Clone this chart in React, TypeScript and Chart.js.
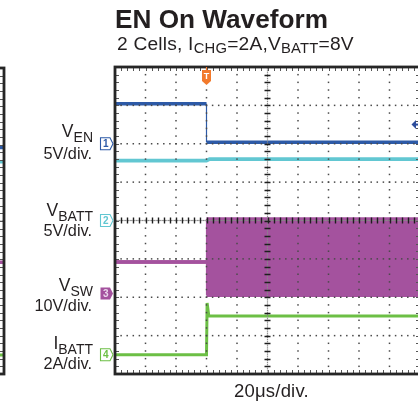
import React, { useEffect, useRef } from "react";
import { Chart, registerables } from "chart.js";

Chart.register(...registerables);

// ---- time base: 20 µs/div, 10 divisions, trigger at t = 0 ----
const timeMin = -60;
const timeMax = 140;
const timePerDiv = 20;
const verticalDivs = 8;

// ---- channels ----
const channelNames = ["EN", "BATT", "SW", "BATT"];
const channelPrefixes = ["V", "V", "V", "I"];
const channelScaleText = ["5V/div.", "5V/div.", "10V/div.", "2A/div."];
const channelPerDiv = [5, 5, 10, 2];
const channelZeroDiv = [2, 0, -1.9, -3.5];
const channelColors = ["#2d5aa7", "#62c7d2", "#a4529e", "#6cbf45"];

// ---- EN On waveform ----
const tEN = [-60, 0, 0, 140];
const vEN = [5.2, 5.2, 0.2, 0.2];
const tBATT = [-60, 0, 2, 140];
const vBATT = [7.8, 7.8, 8.0, 8.0];
const tSW = [-60, 0, 0, 140];
const vSWHigh = [8.2, 8.2, 19.4, 19.4];
const vSWLow = [8.2, 8.2, -0.5, -0.5];
const tIBATT = [-60, 0, 0.4, 1.5, 140];
const iBATT = [0, 0, 2.7, 2.02, 2.02];
const triggerLevelEN = 2.5;

// ---- previous panel (only its right edge is in view) ----
const tPrev = [110, 140];
const vENPrev = [-0.4, -0.4];
const vBATTPrev = [7.75, 7.75];
const vSWPrev = [8.2, 8.2];
const iBATTPrev = [0, 0];

const pts = (t: number[], v: number[]) => t.map((x, i) => ({ x, y: v[i] }));

const FONT = '"Liberation Sans", Arial, sans-serif';

const scopePlugin = {
  id: "scopeGrid",
  afterDatasetsDraw(chart: any, _args: any, opts: any) {
    const { ctx, chartArea: a, scales } = chart;
    const xs = scales.x;
    const ys = scales.yd;
    const nx = (timeMax - timeMin) / timePerDiv;
    const ny = verticalDivs;
    const xAt = (d: number) => xs.getPixelForValue(timeMin + d * timePerDiv);
    const yAt = (d: number) => ys.getPixelForValue(d - ny / 2);
    ctx.save();
    // dotted grid
    ctx.fillStyle = "#4a4a4a";
    for (let i = 1; i < nx; i++) {
      if (i === nx / 2) continue;
      const x = xAt(i);
      for (let j = 1; j < ny * 5; j++) {
        const y = yAt(j / 5);
        ctx.fillRect(x - 0.75, y - 0.75, 1.5, 1.5);
      }
    }
    for (let k = 1; k < ny; k++) {
      if (k === ny / 2) continue;
      const y = yAt(k);
      for (let j = 1; j < nx * 5; j++) {
        const x = xAt(j / 5);
        ctx.fillRect(x - 0.75, y - 0.75, 1.5, 1.5);
      }
    }
    // centre lines
    const xc = xAt(nx / 2);
    const yc = yAt(ny / 2);
    ctx.fillStyle = "#8a8a8a";
    for (let j = 0; j < ny * 20; j++) {
      const y = yAt(j / 20);
      ctx.fillRect(xc - 0.6, y - 0.6, 1.2, 1.2);
    }
    for (let j = 0; j < nx * 20; j++) {
      const x = xAt(j / 20);
      ctx.fillRect(x - 0.6, yc - 0.6, 1.2, 1.2);
    }
    ctx.strokeStyle = "#1e1e1e";
    ctx.lineWidth = 1.4;
    ctx.beginPath();
    for (let j = 1; j < ny * 5; j++) {
      const y = Math.round(yAt(j / 5)) + 0.5;
      ctx.moveTo(xc - 3, y);
      ctx.lineTo(xc + 3, y);
    }
    for (let j = 1; j < nx * 5; j++) {
      const x = Math.round(xAt(j / 5)) + 0.5;
      ctx.moveTo(x, yc - 3);
      ctx.lineTo(x, yc + 3);
    }
    ctx.stroke();
    // frame minor ticks
    ctx.strokeStyle = "#555";
    ctx.lineWidth = 1;
    ctx.beginPath();
    for (let j = 1; j < ny * 5; j++) {
      const y = Math.round(yAt(j / 5)) + 0.5;
      ctx.moveTo(a.left, y);
      ctx.lineTo(a.left + 4, y);
      ctx.moveTo(a.right - 4, y);
      ctx.lineTo(a.right, y);
    }
    for (let j = 1; j < nx * 5; j++) {
      const x = Math.round(xAt(j / 5)) + 0.5;
      ctx.moveTo(x, a.top);
      ctx.lineTo(x, a.top + 4);
      ctx.moveTo(x, a.bottom - 4);
      ctx.lineTo(x, a.bottom);
    }
    ctx.stroke();
    // frame
    ctx.strokeStyle = "#262626";
    ctx.lineWidth = 2.8;
    ctx.strokeRect(a.left, a.top, a.right - a.left, a.bottom - a.top);

    if (opts && opts.markers) {
      // channel ground tags
      ctx.font = `bold 10px ${FONT}`;
      ctx.textAlign = "center";
      ctx.textBaseline = "middle";
      for (let c = 0; c < 4; c++) {
        const y = scales["y" + (c + 1)].getPixelForValue(0);
        const x0 = a.left - 14.5;
        ctx.beginPath();
        ctx.moveTo(x0, y - 6);
        ctx.lineTo(x0 + 9.5, y - 6);
        ctx.lineTo(x0 + 12.5, y);
        ctx.lineTo(x0 + 9.5, y + 6);
        ctx.lineTo(x0, y + 6);
        ctx.closePath();
        if (c === 2) {
          ctx.fillStyle = channelColors[c];
          ctx.fill();
          ctx.fillStyle = "#ead6eb";
        } else {
          ctx.fillStyle = "#ffffff";
          ctx.fill();
          ctx.strokeStyle = channelColors[c];
          ctx.lineWidth = 1.1;
          ctx.stroke();
          ctx.fillStyle = channelColors[c];
        }
        ctx.fillText(String(c + 1), x0 + 5.3, y + 0.5);
      }
      // trigger position marker
      const xt = xs.getPixelForValue(0);
      ctx.fillStyle = "#f27a2c";
      ctx.fillRect(xt - 0.6, a.top, 1.2, 4);
      ctx.beginPath();
      ctx.moveTo(xt - 4.5, a.top + 3);
      ctx.lineTo(xt + 4.5, a.top + 3);
      ctx.lineTo(xt + 4.5, a.top + 14);
      ctx.lineTo(xt, a.top + 18);
      ctx.lineTo(xt - 4.5, a.top + 14);
      ctx.closePath();
      ctx.fill();
      ctx.fillStyle = "#ffffff";
      ctx.font = `bold 9px ${FONT}`;
      ctx.fillText("T", xt, a.top + 10);
      // trigger level arrow (channel 1)
      const yl = scales.y1.getPixelForValue(triggerLevelEN);
      ctx.fillStyle = "#2d4d9c";
      ctx.beginPath();
      ctx.moveTo(a.right - 8.5, yl);
      ctx.lineTo(a.right - 4, yl - 4.5);
      ctx.lineTo(a.right - 4, yl + 4.5);
      ctx.closePath();
      ctx.fill();
      ctx.fillRect(a.right - 5, yl - 1, 6, 2);
    }
    ctx.restore();
  },
};

const edgeWidth = (w: number) => (ctx: any) =>
  ctx.p0.parsed.x === ctx.p1.parsed.x ? 1.2 : w;

function buildChart(canvas: HTMLCanvasElement, datasets: any[], padding: any, markers: boolean) {
  const yScales: any = {};
  for (let c = 0; c < 4; c++) {
    yScales["y" + (c + 1)] = {
      type: "linear",
      display: false,
      min: (-verticalDivs / 2 - channelZeroDiv[c]) * channelPerDiv[c],
      max: (verticalDivs / 2 - channelZeroDiv[c]) * channelPerDiv[c],
    };
  }
  return new Chart(canvas, {
    type: "line",
    data: { datasets },
    options: {
      responsive: false,
      maintainAspectRatio: false,
      animation: false,
      layout: { padding },
      elements: { point: { radius: 0 }, line: { tension: 0 } },
      plugins: {
        legend: { display: false },
        tooltip: { enabled: false },
        scopeGrid: { markers },
      } as any,
      scales: {
        x: { type: "linear", display: false, min: timeMin, max: timeMax },
        yd: { type: "linear", display: false, min: -verticalDivs / 2, max: verticalDivs / 2 },
        ...yScales,
      },
    },
    plugins: [scopePlugin],
  });
}

const lineDs = (data: any[], c: number, w: number, extra: any = {}) => ({
  data,
  yAxisID: "y" + (c + 1),
  borderColor: channelColors[c],
  borderWidth: w,
  pointRadius: 0,
  fill: false,
  segment: { borderWidth: edgeWidth(w) },
  ...extra,
});

function ScopeCanvas(props: { style: any; width: number; height: number; padding: any; markers: boolean; datasets: () => any[] }) {
  const ref = useRef<HTMLCanvasElement | null>(null);
  useEffect(() => {
    if (!ref.current) return;
    const chart = buildChart(ref.current, props.datasets(), props.padding, props.markers);
    return () => chart.destroy();
  }, []);
  return <canvas ref={ref} width={props.width} height={props.height} style={{ ...props.style, width: props.width, height: props.height }} />;
}

const mainDatasets = () => [
  lineDs(pts(tSW, vSWLow), 2, 3.5),
  lineDs(pts(tSW, vSWHigh), 2, 3.5, { fill: "-1", backgroundColor: channelColors[2] }),
  lineDs(pts(tBATT, vBATT), 1, 3.8),
  lineDs(pts(tEN, vEN), 0, 3.5),
  lineDs(pts(tIBATT, iBATT), 3, 3),
];

const prevDatasets = () => [
  lineDs(pts(tPrev, vSWPrev), 2, 3.5),
  lineDs(pts(tPrev, vBATTPrev), 1, 3.5),
  lineDs(pts(tPrev, vENPrev), 0, 3.5),
  lineDs(pts(tPrev, iBATTPrev), 3, 3),
];

const top = (baseline: number, size: number) => baseline - 0.8465 * size;

function SideLabel(props: { c: number; base: number; unitBase: number }) {
  const { c, base, unitBase } = props;
  const common: any = {
    position: "absolute",
    left: 0,
    width: 93,
    textAlign: "right",
    whiteSpace: "nowrap",
    color: "#231f20",
  };
  return (
    <>
      <div style={{ ...common, top: top(base, 17.5), fontSize: 17.5, lineHeight: "17.5px" }}>
        {channelPrefixes[c]}
        <span style={{ fontSize: 14, position: "relative", top: 4.5 }}>{channelNames[c]}</span>
      </div>
      <div style={{ ...common, width: 92, top: top(unitBase, 16.3), fontSize: 16.3, lineHeight: "16.3px" }}>
        {channelScaleText[c]}
      </div>
    </>
  );
}

export default function App() {
  const labelBases = [138.3, 217.3, 292.3, 350];
  const unitBases = [158.3, 236, 311, 369];
  return (
    <div
      style={{
        position: "absolute",
        left: 0,
        top: 0,
        width: 418,
        height: 404,
        overflow: "hidden",
        background: "#ffffff",
        fontFamily: FONT,
        color: "#231f20",
      }}
    >
      <ScopeCanvas
        style={{ position: "absolute", left: -320, top: 0 }}
        width={330}
        height={404}
        padding={{ left: 14, right: 6, top: 68, bottom: 30 }}
        markers={false}
        datasets={prevDatasets}
      />
      <ScopeCanvas
        style={{ position: "absolute", left: 0, top: 0 }}
        width={440}
        height={404}
        padding={{ left: 115, right: 20, top: 67, bottom: 30 }}
        markers={true}
        datasets={mainDatasets}
      />
      <div style={{ position: "absolute", left: 115, top: top(28.3, 26.2), fontSize: 26.2, lineHeight: "26.2px", fontWeight: "bold", whiteSpace: "nowrap" }}>
        EN On Waveform
      </div>
      <div style={{ position: "absolute", left: 117, top: top(50, 19.2), fontSize: 19.2, lineHeight: "19.2px", whiteSpace: "nowrap", letterSpacing: 0.2 }}>
        2 Cells, I<span style={{ fontSize: 14.8, position: "relative", top: 3.5 }}>CHG</span>=2A,V
        <span style={{ fontSize: 14.8, position: "relative", top: 3.5 }}>BATT</span>=8V
      </div>
      {[0, 1, 2, 3].map((c) => (
        <SideLabel key={c} c={c} base={labelBases[c]} unitBase={unitBases[c]} />
      ))}
      <div style={{ position: "absolute", left: 234, top: top(397.7, 18.5), fontSize: 18.5, lineHeight: "18.5px", whiteSpace: "nowrap", letterSpacing: 0.2 }}>
        20μs/div.
      </div>
    </div>
  );
}
